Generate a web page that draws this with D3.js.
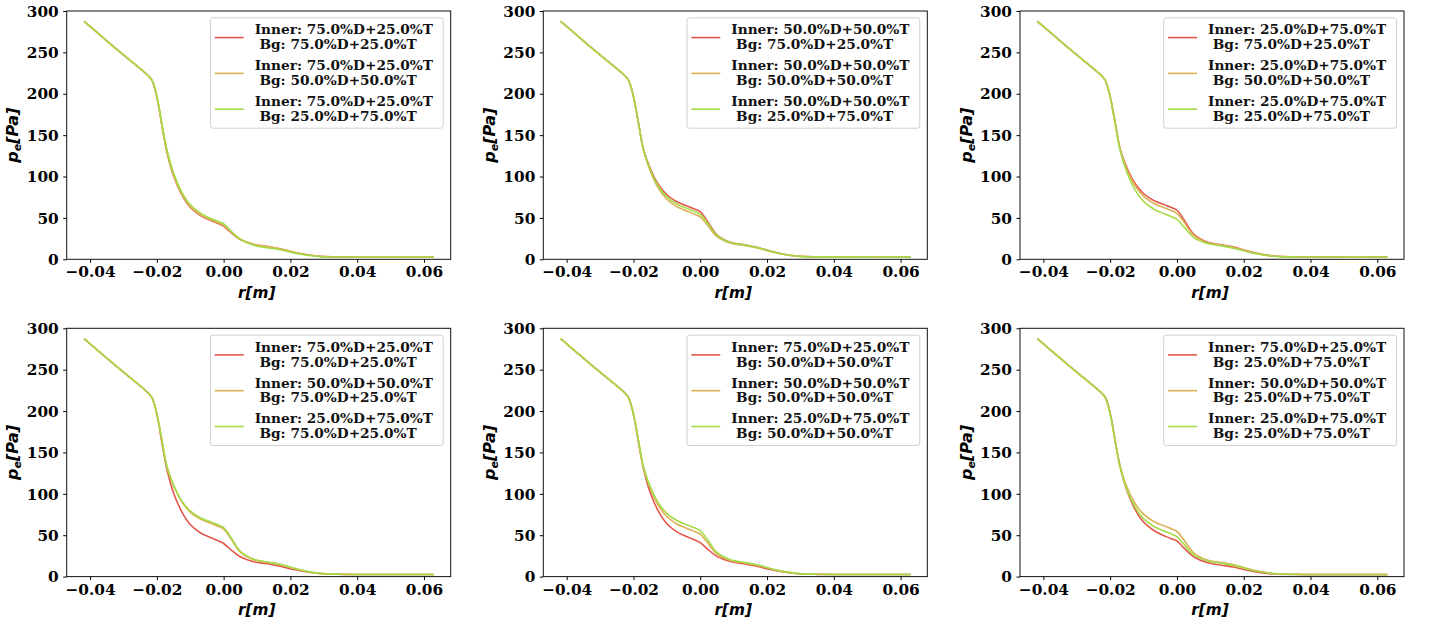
<!DOCTYPE html>
<html><head><meta charset="utf-8">
<script src="https://cdn.jsdelivr.net/npm/d3@7"></script>
<style>body{margin:0;background:#fff} svg{display:block}</style>
</head><body>
<svg id="c" width="1431" height="625"></svg>
<script>
// radial grid (m)
const rGrid = [-0.0418, -0.035, -0.030, -0.0225, -0.0215, -0.0205, -0.0195, -0.0185, -0.017, -0.015, -0.0125, -0.010, -0.007, -0.005, -0.003, -0.0015, 0, 0.002, 0.005, 0.009, 0.013, 0.017, 0.021, 0.025, 0.029, 0.035, 0.045, 0.063];
// p_e [Pa] for each Inner / Bg mixture
const I75_B75 = [287.5, 264, 247, 221.5, 216.5, 204.5, 186, 162, 130, 101, 78, 63, 53, 49, 45.5, 43, 40, 33, 24, 18, 15.5, 12.5, 8.5, 5.5, 3.5, 2.7, 2.5, 2.5];
const I75_B50 = [287.5, 264, 247, 221.5, 216.5, 204.5, 186, 162.2, 130.2, 101.5, 78.7, 63.9, 54, 50, 46.5, 44, 41, 33.9, 24.4, 18.2, 15.6, 12.6, 8.6, 5.5, 3.5, 2.7, 2.5, 2.5];
const I75_B25 = [287.5, 264, 247, 221.5, 217, 206, 188, 164, 133, 104.5, 81, 66, 56, 51.5, 48, 45.5, 43, 35, 24, 17, 14, 11.5, 7.8, 4.8, 3.1, 2.5, 2.4, 2.4];
const I50_B75 = [287.5, 264, 247, 221.5, 216.5, 205, 187, 165, 133, 110, 90, 78, 69.5, 66, 63, 60.5, 57.5, 47, 29.5, 20.5, 17.5, 14.5, 10, 6.2, 3.9, 2.9, 2.6, 2.6];
const I50_B50 = [287.5, 264, 247, 221.5, 216.5, 204.5, 186.5, 163.9, 131.9, 106.8, 85.7, 72.6, 63.6, 59.9, 56.7, 54.2, 51.2, 42, 27.5, 19.6, 16.8, 13.8, 9.5, 6, 3.8, 2.8, 2.6, 2.6];
const I50_B25 = [287.5, 264, 247, 221.5, 216.5, 205, 187, 164.5, 132.5, 108.5, 88, 75.5, 66.7, 63.1, 60, 57.5, 54.5, 44.8, 28.8, 20.2, 17.2, 14.2, 9.7, 6.1, 3.8, 2.9, 2.6, 2.6];
const I25_B75 = [287.5, 264, 247, 221.5, 216.5, 205, 187, 165.3, 133.3, 110.9, 91.2, 79.5, 71.2, 67.7, 64.8, 62.3, 59.3, 48.5, 30.5, 21, 17.7, 14.7, 10.2, 6.3, 3.9, 2.9, 2.6, 2.6];
const I25_B50 = [287.5, 264, 247, 221.5, 216.5, 205, 187, 164.7, 132.7, 109, 88.7, 76.4, 67.7, 64.1, 61.1, 58.6, 55.6, 45.6, 29.2, 20.4, 17.3, 14.3, 9.8, 6.1, 3.9, 2.9, 2.6, 2.6];
const I25_B25 = [287.5, 264, 247, 221.5, 216.5, 204.5, 186.5, 163.4, 131.4, 105.2, 83.6, 70, 60.8, 57, 53.7, 51.2, 48.2, 39.5, 26.6, 19.2, 16.4, 13.4, 9.2, 5.8, 3.7, 2.8, 2.5, 2.5];

const mixLabels = ["75.0%D+25.0%T", "50.0%D+50.0%T", "25.0%D+75.0%T"];
const xTicks = [-0.04, -0.02, 0.00, 0.02, 0.04, 0.06];
const yTicks = [0, 50, 100, 150, 200, 250, 300];
const lineColors = ["#e3574b", "#dcb054", "#a4dc48"];

// table [inner][bg]
const curves = [
  [I75_B75, I75_B50, I75_B25],
  [I50_B75, I50_B50, I50_B25],
  [I25_B75, I25_B50, I25_B25]
];

const svg = d3.select("#c");
const colLeft = [66.7, 543.3, 1020], rowTop = [11, 328.3];
const W = 384, H = 248.3;
const tickFont = "'DejaVu Serif', serif";
const labFont = "'DejaVu Sans', sans-serif";

function panel(row, col) {
  const g = svg.append("g").attr("transform", `translate(${colLeft[col]},${rowTop[row]})`);
  const x = d3.scaleLinear().domain([-0.0470, 0.0680]).range([0, W]);
  const y = d3.scaleLinear().domain([0, 300]).range([H, 0]);
  // top row: fixed inner mixture, varying background; bottom row: fixed background, varying inner
  const series = [0, 1, 2].map(k => {
    const inner = row === 0 ? col : k;
    const bg = row === 0 ? k : col;
    return { vals: curves[inner][bg], inner, bg, color: lineColors[k] };
  });
  const line = d3.line().x((d, i) => x(rGrid[i])).y(d => y(d)).curve(d3.curveCatmullRom.alpha(0.5));
  series.forEach(s => {
    g.append("path").attr("d", line(s.vals)).attr("fill", "none")
      .attr("stroke", s.color).attr("stroke-width", 1.6).attr("stroke-linejoin", "round");
  });

  const xa = d3.axisBottom(x).tickValues(xTicks).tickSizeOuter(0).tickSize(3.5).tickPadding(3.5)
    .tickFormat(d => d3.format(".2f")(d).replace("-", "\u2212"));
  const ya = d3.axisLeft(y).tickValues(yTicks).tickSizeOuter(0).tickSize(3.5).tickPadding(4.5);
  const gx = g.append("g").attr("transform", `translate(0,${H})`).call(xa);
  const gy = g.append("g").call(ya);
  [gx, gy].forEach(a => {
    a.select(".domain").remove();
    a.selectAll(".tick line").attr("stroke", "#000").attr("stroke-width", 1);
    a.selectAll(".tick text").attr("font-family", tickFont).attr("font-weight", "bold")
      .attr("font-size", 15.3).attr("fill", "#000");
  });
  gx.selectAll(".tick text").attr("dy", "0.73em");
  gy.selectAll(".tick text").attr("dy", "0.34em");
  g.append("rect").attr("x", 0).attr("y", 0).attr("width", W).attr("height", H)
    .attr("fill", "none").attr("stroke", "#111").attr("stroke-width", 1);

  g.append("text").attr("x", W / 2 - 2).attr("y", H + 38.5).attr("text-anchor", "middle")
    .attr("font-family", labFont).attr("font-weight", "bold").attr("font-style", "italic")
    .attr("font-size", 15.3).text("r[m]");
  const yl = g.append("text").attr("transform", `translate(${-48.5},${H / 2}) rotate(-90)`)
    .attr("text-anchor", "middle").attr("font-family", labFont).attr("font-weight", "bold")
    .attr("font-style", "italic").attr("font-size", 16);
  yl.append("tspan").text("p");
  yl.append("tspan").attr("font-size", 11).attr("dy", 3).text("e");
  yl.append("tspan").attr("dy", -3).text("[Pa]");

  const bw = 232.8, bh = 110.4;
  const lg = g.append("g").attr("transform", `translate(${W - 7.5 - bw},${6.8})`);
  lg.append("rect").attr("width", bw).attr("height", bh).attr("rx", 2.5)
    .attr("fill", "#fff").attr("fill-opacity", 0.8).attr("stroke", "#d0d0d0").attr("stroke-width", 1);
  series.forEach((s, k) => {
    const oy = k * 35.8;
    lg.append("line").attr("x1", 4.3).attr("x2", 33.3).attr("y1", 19.8 + oy).attr("y2", 19.8 + oy)
      .attr("stroke", s.color).attr("stroke-width", 1.6);
    const t = lg.append("text").attr("font-family", tickFont).attr("font-weight", "bold")
      .attr("font-size", 13.7).attr("fill", "#111").style("white-space", "pre");
    t.append("tspan").attr("x", 44.3).attr("y", 16.7 + oy).text("Inner: " + mixLabels[s.inner]);
    t.append("tspan").attr("x", 44.3).attr("y", 31.5 + oy).text(" Bg: " + mixLabels[s.bg]);
  });
}

for (let r = 0; r < 2; r++) for (let c = 0; c < 3; c++) panel(r, c);
</script>
</body></html>
